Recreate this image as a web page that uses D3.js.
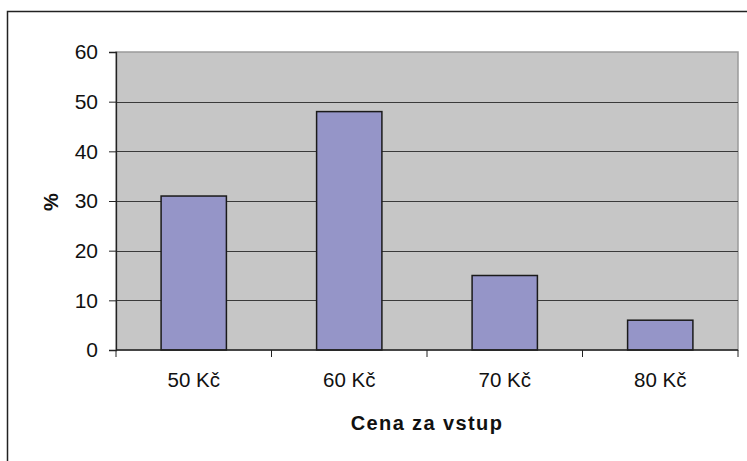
<!DOCTYPE html>
<html>
<head>
<meta charset="utf-8">
<script src="https://cdn.jsdelivr.net/npm/d3@7"></script>
<style>
  body { margin: 0; background: #fff; }
  text { font-family: "Liberation Sans", Arial, sans-serif; fill: #111; }
</style>
</head>
<body>
<div id="canvas"></div>
<script>
"use strict"

/* Drawing dimensions */
let svgWidth = 747;
let svgHeight = 461;
let plot = { left: 116, top: 52, right: 738, bottom: 350 };

/* Data */
let prices = ["50 Kč", "60 Kč", "70 Kč", "80 Kč"];
let percents = [31, 48, 15, 6];
let yTicks = [0, 10, 20, 30, 40, 50, 60];

let svg = d3.select("#canvas")
    .append("svg")
    .attr("width", svgWidth)
    .attr("height", svgHeight);

/* Outer chart border (runs off the right and bottom edges) */
svg.append("rect")
    .attr("x", 7.5)
    .attr("y", 11.5)
    .attr("width", svgWidth)
    .attr("height", svgHeight)
    .attr("fill", "none")
    .attr("stroke", "#222")
    .attr("stroke-width", 1.5);

/* Scales */
let xScale = d3.scaleBand()
    .domain(prices)
    .range([plot.left, plot.right])
    .paddingInner(0.58)
    .paddingOuter(0.29);

let yScale = d3.scaleLinear()
    .domain([0, 60])
    .range([plot.bottom, plot.top]);

/* Plot area background */
svg.append("rect")
    .attr("x", plot.left)
    .attr("y", plot.top)
    .attr("width", plot.right - plot.left)
    .attr("height", plot.bottom - plot.top)
    .attr("fill", "#c6c6c6")
    .attr("stroke", "#9a9a9a")
    .attr("stroke-width", 1.5);

/* Gridlines */
svg.selectAll(".grid")
    .data(yTicks.slice(1, -1))
    .join("line")
    .attr("x1", plot.left)
    .attr("x2", plot.right)
    .attr("y1", d => Math.round(yScale(d)) + 0.5)
    .attr("y2", d => Math.round(yScale(d)) + 0.5)
    .attr("stroke", "#3a3a3a")
    .attr("stroke-width", 1);

/* Bars */
svg.selectAll(".bar")
    .data(percents)
    .join("rect")
    .attr("x", (d, i) => xScale(prices[i]))
    .attr("y", d => yScale(d))
    .attr("width", xScale.bandwidth())
    .attr("height", d => yScale(0) - yScale(d))
    .attr("fill", "#9595c8")
    .attr("stroke", "#1a1a1a")
    .attr("stroke-width", 1.5);

/* Y axis */
let yAxis = d3.axisLeft(yScale)
    .tickValues(yTicks)
    .tickSize(7)
    .tickPadding(11);

let gy = svg.append("g")
    .attr("transform", "translate(" + plot.left + ",0)")
    .call(yAxis);
gy.select(".domain").attr("stroke", "#222").attr("stroke-width", 1.3);
gy.selectAll(".tick line").attr("stroke", "#222");
gy.selectAll("text")
    .style("font-size", "21px")
    .style("font-family", "Liberation Sans, Arial, sans-serif")
    .attr("fill", "#111");

/* X axis */
let gx = svg.append("g")
    .attr("transform", "translate(0," + plot.bottom + ")");

gx.append("line")
    .attr("x1", plot.left)
    .attr("x2", plot.right)
    .attr("stroke", "#222")
    .attr("stroke-width", 1.3);

let step = xScale.step();
let bounds = prices.map(p => xScale(p) - xScale.paddingInner() * step / 2);
bounds.push(plot.right);

gx.selectAll(".xtick")
    .data(bounds)
    .join("line")
    .attr("x1", d => d)
    .attr("x2", d => d)
    .attr("y1", 0)
    .attr("y2", 7)
    .attr("stroke", "#222");

gx.selectAll(".xlabel")
    .data(prices)
    .join("text")
    .attr("x", d => xScale(d) + xScale.bandwidth() / 2)
    .attr("y", 37)
    .attr("text-anchor", "middle")
    .style("font-size", "20.5px")
    .text(d => d);

/* Axis titles */
svg.append("text")
    .attr("x", (plot.left + plot.right) / 2)
    .attr("y", 430)
    .attr("text-anchor", "middle")
    .style("font-size", "20px")
    .style("font-weight", "bold")
    .style("letter-spacing", "1.4px")
    .text("Cena za vstup");

svg.append("text")
    .attr("transform", "translate(58,202) rotate(-90)")
    .attr("text-anchor", "middle")
    .style("font-size", "20px")
    .style("font-weight", "bold")
    .text("%");
</script>
</body>
</html>
